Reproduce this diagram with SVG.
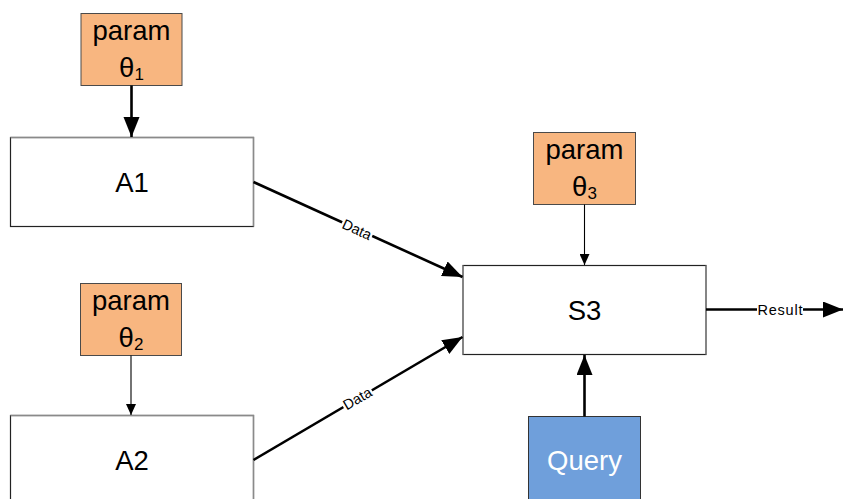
<svg xmlns="http://www.w3.org/2000/svg" width="843" height="499" viewBox="0 0 843 499">
  <style>
    text { font-family: "Liberation Sans", Arial, sans-serif; fill: #000; }
    .box { fill: #fff; stroke: #222; stroke-width: 1.2; }
    .edge-hi { fill: none; stroke: #8a8a8a; stroke-width: 1.4; }
    .param { fill: #f8b680; stroke: #4a4a4a; stroke-width: 1; }
    .query { fill: #6f9fdb; stroke: #333; stroke-width: 1; }
    .big { font-size: 27.5px; text-anchor: middle; }
    .sub { font-size: 17px; }
    .lbl { font-size: 14.5px; text-anchor: middle; }
    .thick { stroke: #000; stroke-width: 2.6; fill: none; }
    .thin { stroke: #000; stroke-width: 1.1; fill: none; }
  </style>
  <defs>
    <marker id="headBig" markerUnits="userSpaceOnUse" markerWidth="22" markerHeight="18" refX="20" refY="8" orient="auto">
      <path d="M0,0 L20,8 L0,16 Z" fill="#000"/>
    </marker>
    <marker id="headSmall" markerUnits="userSpaceOnUse" markerWidth="12" markerHeight="10" refX="11" refY="5" orient="auto">
      <path d="M0,0 L11,5 L0,10 Z" fill="#000"/>
    </marker>
  </defs>

  <!-- processing blocks -->
  <g id="A1">
    <rect class="box" x="10.5" y="137.5" width="243" height="89"/>
    <path class="edge-hi" d="M10.5,137.5 H253.5 V226.5"/>
    <text class="big" x="132" y="191.5">A1</text>
  </g>
  <g id="A2">
    <rect class="box" x="10.5" y="415.5" width="243" height="100"/>
    <path class="edge-hi" d="M10.5,415.5 H253.5 V515"/>
    <text class="big" x="132" y="469.5">A2</text>
  </g>
  <g id="S3">
    <rect class="box" x="463" y="265.5" width="243" height="89"/>
    <path class="edge-hi" d="M463,265.5 V354.5 M706,265.5 V354.5"/>
    <text class="big" x="584.5" y="319.5">S3</text>
  </g>

  <!-- parameter blocks -->
  <g id="param1">
    <rect class="param" x="81" y="13.5" width="101" height="72"/>
    <text class="big" x="131.5" y="40">param</text>
    <text class="big" x="131.5" y="77">θ<tspan class="sub" dy="3">1</tspan></text>
  </g>
  <g id="param2">
    <rect class="param" x="80.5" y="283.5" width="101" height="72"/>
    <text class="big" x="131" y="310">param</text>
    <text class="big" x="131" y="347">θ<tspan class="sub" dy="3">2</tspan></text>
  </g>
  <g id="param3">
    <rect class="param" x="533.5" y="132.5" width="102" height="72"/>
    <text class="big" x="584.5" y="159">param</text>
    <text class="big" x="584.5" y="196">θ<tspan class="sub" dy="3">3</tspan></text>
  </g>

  <!-- query input -->
  <g id="Query">
    <rect class="query" x="528.5" y="416.5" width="112" height="100"/>
    <text class="big" x="584.5" y="470" style="fill:#fff">Query</text>
  </g>

  <!-- connectors -->
  <g id="connectors">
    <line class="thick" x1="131.5" y1="85.5" x2="131.5" y2="137" marker-end="url(#headBig)"/>
    <line class="thin" x1="131" y1="355.5" x2="131" y2="415" marker-end="url(#headSmall)"/>
    <line class="thin" x1="584.5" y1="204.5" x2="584.5" y2="265" marker-end="url(#headSmall)"/>
    <line class="thick" x1="584.5" y1="416.5" x2="584.5" y2="355" marker-end="url(#headBig)"/>

    <line class="thick" x1="253.5" y1="182" x2="462.5" y2="277" marker-end="url(#headBig)"/>
    <line class="thick" x1="253.5" y1="460" x2="462.5" y2="337" marker-end="url(#headBig)"/>
    <line class="thick" x1="706" y1="309.5" x2="843" y2="309.5" marker-end="url(#headBig)"/>

    <!-- edge labels on white backing -->
    <g transform="translate(357,229.5) rotate(24.4)">
      <rect x="-16.5" y="-8" width="33" height="15" fill="#fff"/>
      <text class="lbl" x="0" y="5">Data</text>
    </g>
    <g transform="translate(357.5,398.5) rotate(-30.5)">
      <rect x="-16.5" y="-8" width="33" height="15" fill="#fff"/>
      <text class="lbl" x="0" y="5">Data</text>
    </g>
    <rect x="757" y="301" width="46" height="16" fill="#fff"/>
    <text class="lbl" x="780" y="314.5" textLength="45">Result</text>
  </g>
</svg>
